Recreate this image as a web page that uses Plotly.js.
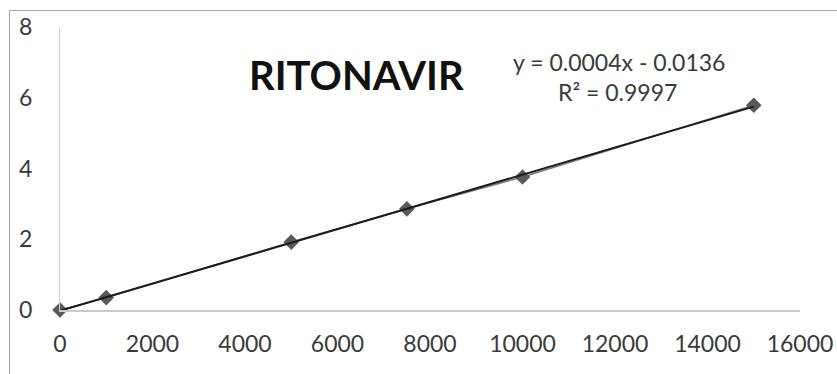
<!DOCTYPE html>
<html><head><meta charset="utf-8">
<script src="https://cdn.plot.ly/plotly-3.0.1.min.js"></script>
<style>
html,body{margin:0;padding:0;overflow:hidden;background:#fff;width:837px;height:374px;}
#chart{position:absolute;left:9px;top:10px;width:880px;height:400px;border:1.5px solid #a6a6a6;}
</style></head>
<body><div id="chart"></div>
<script>
const concentration = [0, 1000, 5000, 7500, 10000, 15000];
const response = [0, 0.35, 1.92, 2.86, 3.76, 5.79];
const xTicks = [0, 2000, 4000, 6000, 8000, 10000, 12000, 14000, 16000];
const yTicks = [0, 2, 4, 6, 8];
const chartTitle = "RITONAVIR";
const equationText = "y = 0.0004x - 0.0136";
const r2Text = "R² = 0.9997";

// least-squares trendline from the data
const n = concentration.length;
const mx = concentration.reduce((a,b)=>a+b,0)/n;
const my = response.reduce((a,b)=>a+b,0)/n;
let sxy=0, sxx=0;
for (let i=0;i<n;i++){sxy+=(concentration[i]-mx)*(response[i]-my);sxx+=(concentration[i]-mx)**2;}
const slope = sxy/sxx, intercept = my - slope*mx;
const trendX = [concentration[0], concentration[n-1]];
const trendY = trendX.map(v=>slope*v+intercept);

const font = "Lato, 'Open Sans', sans-serif";
const data = [
  {x: concentration, y: response, type:'scatter', mode:'lines+markers', cliponaxis:false,
   line:{color:'#7a7a7a', width:1.5},
   marker:{symbol:'diamond', size:12, color:'#595959'}, showlegend:false},
  {x: trendX, y: trendY, type:'scatter', mode:'lines', cliponaxis:false,
   line:{color:'#1a1a1a', width:2}, showlegend:false}
];
const layout = {
  width:880, height:400,
  margin:{l:50, r:90, t:16, b:101},
  paper_bgcolor:'#fff', plot_bgcolor:'#fff',
  font:{family:font, size:23, color:'#3a3a3a'},
  xaxis:{range:[0,16000], tickvals:xTicks, ticktext:xTicks.map(String),
         showgrid:false, zeroline:false, showline:true, linecolor:'#cccccc', linewidth:2,
         ticks:'', ticklabelstandoff:12, tickfont:{size:23, color:'#3a3a3a'}},
  yaxis:{range:[0,8], tickvals:yTicks, ticktext:yTicks.map(String),
         showgrid:false, zeroline:false, showline:true, linecolor:'#d0d0d0', linewidth:1,
         ticks:'', ticklabelstandoff:22, tickfont:{size:23, color:'#3a3a3a'}},
  annotations:[
    {text:'<b>'+chartTitle+'</b>', xref:'paper', yref:'paper', x:0.401, y:0.83,
     xanchor:'center', yanchor:'middle',
     showarrow:false, font:{family:font, size:40, color:'#111'}},
    {text:equationText, xref:'paper', yref:'paper', x:0.756, y:0.876,
     xanchor:'center', yanchor:'middle',
     showarrow:false, font:{family:font, size:23, color:'#3a3a3a'}},
    {text:r2Text, xref:'paper', yref:'paper', x:0.754, y:0.77,
     xanchor:'center', yanchor:'middle',
     showarrow:false, font:{family:font, size:23, color:'#3a3a3a'}}
  ]
};
Plotly.newPlot('chart', data, layout, {displayModeBar:false, staticPlot:true});
</script></body></html>
